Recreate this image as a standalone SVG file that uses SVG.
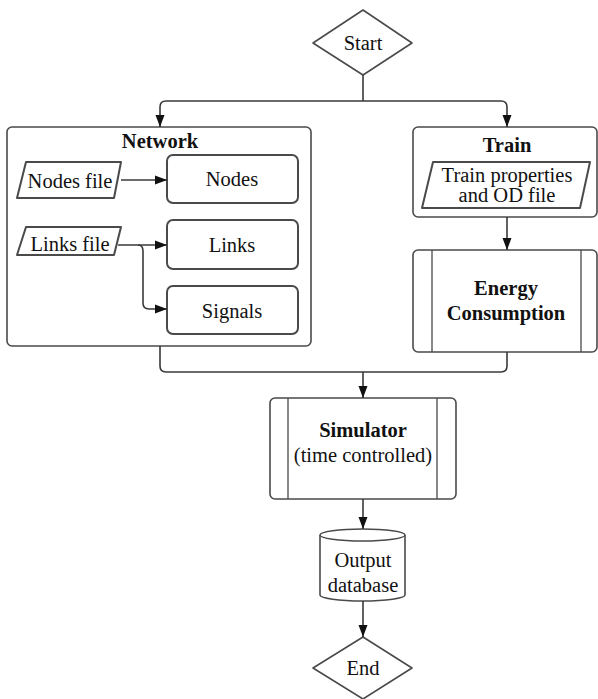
<svg xmlns="http://www.w3.org/2000/svg" width="598" height="699" viewBox="0 0 598 699">
<style>
.shape{fill:#fff;stroke:#4a4a4a;stroke-width:1.6;stroke-linejoin:round}
.sub{stroke-width:2}
.inner{fill:none;stroke:#4a4a4a;stroke-width:1.3}
.conn{fill:none;stroke:#3a3a3a;stroke-width:1.6}
text{font-family:"Liberation Serif","Times New Roman",serif;font-size:20.5px;fill:#111;text-anchor:middle}
.b{font-weight:bold}
</style>
<defs>
<marker id="arr" markerUnits="userSpaceOnUse" markerWidth="12" markerHeight="10" refX="12" refY="5" orient="auto">
<path d="M0,0.5 L12,5 L0,9.5 z" fill="#111"/>
</marker>
</defs>
<g id="start">
<path class="shape" d="M363,10 L412,43 L363,75 L313,43 Z"/>
<text x="363" y="50">Start</text>
</g>
<g id="network">
<rect class="shape" x="7" y="127" width="304" height="219" rx="5"/>
<text class="b" x="160" y="148">Network</text>
</g>
<g id="nodes-file">
<path class="shape sub" d="M26,162 L121,162 L114,198 L17,198 Z"/>
<text x="70" y="188">Nodes file</text>
</g>
<g id="nodes">
<rect class="shape sub" x="167" y="155" width="131" height="48" rx="6"/>
<text x="232" y="186">Nodes</text>
</g>
<g id="links-file">
<path class="shape sub" d="M26,227 L121,227 L114,255 L17,255 Z"/>
<text x="70" y="251">Links file</text>
</g>
<g id="links">
<rect class="shape sub" x="167" y="220" width="131" height="49" rx="6"/>
<text x="232" y="252">Links</text>
</g>
<g id="signals">
<rect class="shape sub" x="167" y="286" width="131" height="48" rx="6"/>
<text x="232" y="318">Signals</text>
</g>
<g id="train">
<rect class="shape" x="413" y="127" width="184" height="90" rx="5"/>
<text class="b" x="507" y="152">Train</text>
</g>
<g id="train-file">
<path class="shape sub" d="M433,162 L590,162 L580,208 L422,208 Z"/>
<text x="507" y="182">Train properties</text>
<text x="507" y="202">and OD file</text>
</g>
<g id="energy">
<rect class="shape" x="413" y="250" width="184" height="102" rx="5"/>
<line class="inner" x1="432" y1="250" x2="432" y2="352"/>
<line class="inner" x1="581" y1="250" x2="581" y2="352"/>
<text class="b" x="506" y="295">Energy</text>
<text class="b" x="506" y="320">Consumption</text>
</g>
<g id="simulator">
<rect class="shape" x="270" y="398" width="186" height="101" rx="5"/>
<line class="inner" x1="288" y1="398" x2="288" y2="499"/>
<line class="inner" x1="437" y1="398" x2="437" y2="499"/>
<text class="b" x="363" y="437">Simulator</text>
<text x="363" y="462">(time controlled)</text>
</g>
<g id="output">
<path class="shape" d="M320,535 L320,595 A42.5,6 0 0 0 405,595 L405,535 A42.5,6 0 0 0 320,535 Z"/>
<path class="inner" d="M320,535 A42.5,6 0 0 0 405,535"/>
<text x="363" y="567">Output</text>
<text x="363" y="592">database</text>
</g>
<g id="end">
<path class="shape" d="M363,637 L412,668 L363,699 L313,668 Z"/>
<text x="363" y="675">End</text>
</g>
<g id="connectors">
<path class="conn" d="M363,75 V101"/>
<path class="conn" marker-end="url(#arr)" d="M363,101 H166 Q160,101 160,107 V127"/>
<path class="conn" marker-end="url(#arr)" d="M363,101 H501 Q507,101 507,107 V127"/>
<path class="conn" marker-end="url(#arr)" d="M121,180 H167"/>
<path class="conn" marker-end="url(#arr)" d="M118,245 H167"/>
<path class="conn" marker-end="url(#arr)" d="M138,245 Q143,245 143,251 V303 Q143,309 149,309 H167"/>
<path class="conn" marker-end="url(#arr)" d="M507,217 V250"/>
<path class="conn" d="M160,346 V366 Q160,372 166,372 H501 Q507,372 507,366 V352"/>
<path class="conn" marker-end="url(#arr)" d="M363,372 V398"/>
<path class="conn" marker-end="url(#arr)" d="M363,499 V529"/>
<path class="conn" marker-end="url(#arr)" d="M363,601 V637"/>
</g>
</svg>
